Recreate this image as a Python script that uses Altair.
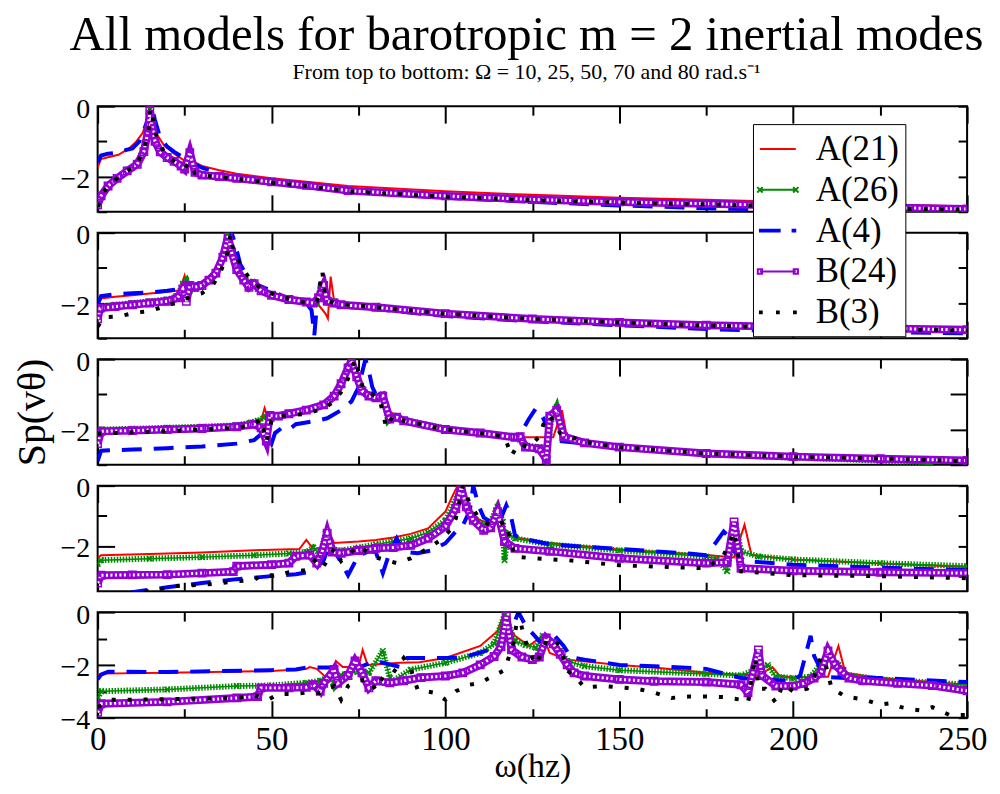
import altair as alt
import pandas as pd

FONT = "Liberation Serif"
MODELS = ["A(21)", "A(26)", "A(4)", "B(24)", "B(3)"]
COLORS = ["#ff0000", "#008b00", "#0000ff", "#9400d3", "#000000"]
X_MAJOR = [0, 50, 100, 150, 200, 250]
X_MINOR = [25, 75, 125, 175, 225]
Y_LOW = [-3, -3, -3, -3.5, -4]

# ---------- Panel 1 : Omega = 10 ----------
P1_A21 = [(0,-1.74),(1,-1.5),(3,-1.45),(6,-1.38),(9,-1.2),(11,-1.02),(13,-0.75),(14,-0.45),(15,0.0),(16,-0.45),(17,-0.8),(19,-1.1),(22,-1.35),(25,-1.55),(26.5,-1.3),(28,-1.6),(30,-1.7),(35,-1.82),(40,-1.92),(50,-2.05),(60,-2.15),(72,-2.27),(100,-2.42),(125,-2.52),(150,-2.6),(175,-2.66),(200,-2.72),(225,-2.79),(250,-2.85)]
P1_A26 = [(0,-2.85),(1,-2.55),(3,-2.3),(5,-2.1),(7,-1.95),(9,-1.8),(11,-1.65),(12.5,-1.4),(13.5,-1.1),(14.5,-0.6),(15,-0.1),(15.5,-0.5),(16.5,-0.95),(18,-1.25),(20,-1.45),(22,-1.57),(24,-1.72),(25,-1.78),(26.5,-1.35),(28,-1.85),(30,-1.95),(35,-2.0),(40,-2.07),(50,-2.17),(60,-2.27),(72,-2.4),(100,-2.55),(125,-2.65),(150,-2.72),(175,-2.78),(200,-2.84),(225,-2.89),(250,-2.93)]
P1_A4 = [(0,-1.6),(1,-1.4),(3,-1.35),(6,-1.32),(8,-1.25),(10,-1.2),(12,-1.0),(14,-0.5),(15.5,0.0),(16.5,-0.4),(18,-0.9),(20,-1.15),(22,-1.3),(24,-1.42),(27,-1.6),(30,-1.75),(35,-1.9),(40,-2.05),(50,-2.2),(60,-2.3),(72,-2.42),(100,-2.6),(125,-2.72),(150,-2.82),(175,-2.9),(200,-2.95),(225,-2.98),(250,-3.0)]
P1_B24 = [(0,-2.8),(1,-2.55),(3,-2.27),(5.6,-2.05),(8.5,-1.84),(11.4,-1.65),(13.3,-1.29),(14.5,-0.7),(15,-0.12),(15.6,-0.55),(16.5,-1.0),(18,-1.3),(20,-1.46),(22,-1.57),(24,-1.7),(25,-1.79),(26.5,-1.32),(28,-1.88),(30,-1.96),(35,-2.0),(40,-2.05),(50,-2.15),(60,-2.25),(72,-2.4),(100,-2.55),(125,-2.65),(150,-2.72),(175,-2.77),(200,-2.83),(225,-2.88),(250,-2.92)]
P1_B3 = [(0,-2.85),(2,-2.4),(5,-2.1),(8,-1.85),(11,-1.7),(13,-1.3),(14.5,-0.8),(15.2,-0.05),(16,-0.4),(17,-0.9),(19,-1.3),(21,-1.5),(23,-1.65),(25,-1.75),(26.5,-1.6),(28,-1.9),(30,-1.97),(35,-2.02),(40,-2.07),(50,-2.17),(60,-2.27),(72,-2.42),(100,-2.57),(125,-2.67),(150,-2.74),(175,-2.79),(200,-2.85),(225,-2.9),(250,-2.94)]

# ---------- Panel 2 : Omega = 25 ----------
P2_A21 = [(0,-1.95),(1,-1.87),(5,-1.82),(10,-1.78),(15,-1.73),(20,-1.68),(23.5,-1.64),(25,-1.22),(26,-1.7),(28,-1.55),(30,-1.4),(32,-1.25),(34,-1.02),(36,-0.6),(37,0.0),(38.5,-0.6),(40,-0.95),(42,-1.3),(45,-1.5),(50,-1.7),(55,-1.85),(60,-1.95),(63.5,-2.05),(65.5,-2.3),(66.2,-2.44),(67,-1.25),(68,-1.95),(70,-2.0),(80,-2.08),(100,-2.25),(125,-2.4),(150,-2.5),(175,-2.58),(200,-2.64),(225,-2.7),(250,-2.75)]
P2_A26 = [(0,-2.4),(0.7,-2.1),(5,-2.05),(10,-2.0),(15,-1.95),(20,-1.9),(23,-1.8),(24.5,-1.45),(25.5,-1.35),(26.5,-1.65),(28,-1.6),(30,-1.5),(32,-1.35),(34,-1.15),(36,-0.7),(37.5,0.0),(38.5,-0.55),(40,-1.0),(42,-1.3),(44,-1.4),(46,-1.6),(50,-1.75),(55,-1.9),(60,-1.95),(63,-2.0),(64,-1.6),(65,-1.45),(66,-1.9),(68,-1.95),(70,-2.05),(80,-2.12),(100,-2.3),(125,-2.45),(150,-2.55),(175,-2.63),(200,-2.69),(225,-2.73),(250,-2.78)]
P2_A4 = [(0,-2.05),(1,-1.8),(5,-1.75),(10,-1.72),(15,-1.7),(20,-1.65),(24,-1.6),(27,-1.5),(30,-1.42),(33,-1.2),(35.5,-0.9),(37,-0.5),(38.5,0.0),(39.5,-0.3),(41,-0.9),(43,-1.25),(45,-1.45),(50,-1.65),(55,-1.88),(60,-2.0),(61.5,-2.2),(62.3,-2.92),(63,-2.1),(64.5,-1.3),(65.5,-2.0),(68,-2.05),(70,-2.1),(80,-2.17),(100,-2.37),(125,-2.52),(150,-2.63),(175,-2.74),(200,-2.8),(225,-2.83),(250,-2.86)]
P2_B24 = [(0,-2.45),(0.7,-2.15),(5,-2.1),(10,-2.05),(15,-2.0),(20,-1.95),(23,-1.85),(24.5,-1.6),(25.5,-1.95),(26.5,-1.5),(28,-1.55),(30,-1.5),(32,-1.35),(34,-1.15),(36,-0.7),(37.5,-0.1),(38.5,-0.55),(40,-1.05),(42,-1.35),(43.5,-1.55),(45,-1.45),(47,-1.65),(50,-1.78),(55,-1.9),(60,-1.97),(62,-2.0),(63.5,-1.85),(65,-1.5),(66,-1.95),(68,-2.0),(70,-2.05),(80,-2.12),(100,-2.3),(125,-2.45),(150,-2.55),(175,-2.63),(200,-2.68),(225,-2.72),(250,-2.76)]
P2_B3 = [(0,-2.67),(2,-2.4),(6,-2.38),(11,-2.27),(15,-2.23),(20,-2.07),(24,-1.95),(27,-1.8),(30,-1.72),(33,-1.5),(35,-1.2),(37,-0.7),(38.2,-0.05),(39,-0.5),(41,-0.9),(44,-1.35),(48,-1.65),(52,-1.8),(56,-1.9),(60,-2.0),(63,-1.95),(64.6,-1.1),(65.5,-1.9),(68,-2.0),(72,-2.05),(80,-2.12),(100,-2.3),(125,-2.45),(150,-2.55),(175,-2.64),(200,-2.7),(225,-2.74),(250,-2.78)]

# ---------- Panel 3 : Omega = 50 ----------
P3_A21 = [(0,-2.05),(1,-2.0),(10,-1.98),(20,-1.95),(30,-1.92),(40,-1.88),(45,-1.8),(47,-1.75),(48,-1.39),(49,-1.7),(50,-1.65),(55,-1.55),(60,-1.45),(65,-1.25),(68,-1.0),(70,-0.6),(71.5,-0.3),(72.5,0.0),(74,-0.5),(76,-0.75),(78,-1.1),(80,-1.15),(82,-1.05),(84,-1.5),(88,-1.7),(100,-1.95),(110,-2.05),(120,-2.18),(121,-2.22),(131,-2.22),(133.5,-1.45),(135,-2.25),(140,-2.35),(150,-2.47),(175,-2.66),(200,-2.75),(225,-2.82),(250,-2.88)]
P3_A26 = [(0,-2.15),(1,-2.0),(10,-1.98),(20,-1.95),(30,-1.92),(40,-1.88),(44,-1.8),(46,-1.75),(48,-1.65),(50,-1.7),(52,-1.6),(55,-1.55),(60,-1.45),(65,-1.28),(68,-1.05),(70,-0.7),(72,-0.2),(73,0.0),(74.5,-0.5),(76,-0.85),(78,-1.0),(80,-1.05),(82,-1.0),(83.5,-1.75),(85,-1.6),(88,-1.72),(100,-1.97),(110,-2.08),(120,-2.2),(123,-2.45),(127,-2.5),(129,-2.6),(130.5,-1.7),(132,-1.35),(134,-2.2),(140,-2.38),(150,-2.5),(175,-2.7),(200,-2.8),(225,-2.88),(240,-3.0)]
P3_A4 = [(0,-2.9),(1,-2.6),(10,-2.57),(20,-2.53),(30,-2.48),(40,-2.4),(45,-2.3),(48,-2.05),(50,-2.4),(51,-2.1),(53,-1.95),(55,-2.0),(57,-1.85),(60,-1.8),(63,-1.75),(66,-1.68),(70,-1.45),(73,-1.2),(75,-0.8),(76,-0.4),(77,0.0),(78,-0.35),(79,-0.8),(80,-1.0),(82,-1.05),(84,-1.6),(88,-1.8),(100,-2.0),(110,-2.1),(120,-2.2),(122,-2.05),(124,-1.7),(126,-1.4),(128,-1.65),(129.5,-2.0),(131,-2.3),(135,-2.35),(140,-2.4),(150,-2.52),(175,-2.7),(200,-2.8),(225,-2.86),(250,-2.92)]
P3_B24 = [(0,-2.4),(1,-2.05),(10,-2.03),(20,-2.0),(30,-1.97),(40,-1.92),(45,-1.85),(47,-1.95),(48.5,-2.33),(49.5,-1.6),(52,-1.62),(55,-1.55),(60,-1.45),(65,-1.3),(68,-1.05),(70,-0.7),(72,-0.25),(73,-0.05),(74.5,-0.5),(76,-0.9),(78,-1.05),(80,-1.1),(82,-1.05),(84,-1.7),(86,-1.65),(88,-1.75),(100,-2.0),(110,-2.1),(120,-2.22),(121.5,-2.2),(123,-2.5),(127,-2.55),(129,-2.85),(130,-1.62),(132,-1.45),(134,-2.2),(140,-2.38),(150,-2.5),(175,-2.68),(200,-2.77),(225,-2.83),(250,-2.88)]
P3_B3 = [(0,-2.12),(5,-2.1),(10,-2.08),(20,-2.05),(30,-2.0),(40,-1.95),(45,-1.85),(47,-1.7),(48.5,-2.35),(50,-1.75),(52,-1.6),(55,-1.6),(60,-1.55),(65,-1.4),(68,-1.2),(71,-0.8),(73,-0.3),(74,0.0),(75,-0.35),(76.5,-0.9),(79,-1.0),(81,-1.1),(83,-1.95),(85,-1.6),(88,-1.75),(100,-2.0),(110,-2.1),(117,-2.2),(119,-2.75),(121,-2.4),(124,-2.5),(127,-2.2),(128.8,-1.67),(130,-1.6),(133,-2.1),(140,-2.35),(150,-2.5),(175,-2.68),(200,-2.77),(225,-2.82),(250,-2.9)]

# ---------- Panel 4 : Omega = 70 ----------
P4_A21 = [(0,-2.4),(1,-2.31),(15,-2.27),(30,-2.22),(45,-2.14),(58,-2.1),(60,-1.8),(62,-2.1),(65,-2.05),(66,-1.42),(68,-1.9),(75,-1.85),(80,-1.8),(85,-1.72),(90,-1.6),(95,-1.42),(100,-0.86),(102,-0.35),(103.5,0.0),(105,-0.5),(106.5,-0.86),(110,-1.15),(113,-1.25),(115,-1.1),(117,-1.6),(120,-1.72),(130,-1.9),(150,-2.12),(175,-2.3),(183,-2.38),(186,-1.3),(188,-2.3),(200,-2.45),(225,-2.58),(250,-2.7)]
P4_A26 = [(0,-2.6),(1,-2.47),(15,-2.42),(30,-2.37),(45,-2.31),(55,-2.25),(60,-2.2),(62,-2.05),(64,-2.3),(65.5,-1.6),(67,-2.1),(70,-2.15),(75,-2.05),(80,-1.95),(85,-1.85),(90,-1.75),(95,-1.55),(100,-1.15),(102.5,-0.6),(104.5,0.0),(106,-0.6),(108,-1.05),(111,-1.3),(113,-1.2),(115,-0.7),(116.5,-1.2),(117,-2.47),(118,-1.6),(120,-1.75),(130,-1.95),(150,-2.15),(175,-2.35),(178,-2.42),(181,-2.84),(183.5,-1.32),(185,-2.18),(190,-2.35),(200,-2.45),(225,-2.57),(250,-2.67)]
P4_A4 = [(0,-3.9),(5,-3.7),(10,-3.53),(20,-3.37),(30,-3.23),(40,-3.1),(50,-3.0),(57,-2.94),(62,-2.84),(65,-2.47),(67,-1.85),(69,-2.34),(72,-2.97),(75,-2.31),(78,-2.18),(80,-2.2),(82,-2.9),(84,-2.2),(86,-1.75),(88,-2.2),(92,-2.24),(96,-2.15),(100,-1.91),(103,-1.52),(105,-1.32),(107,-0.83),(108,0.0),(109.5,-0.65),(111,-1.05),(113,-1.2),(115,-1.35),(117.5,-0.65),(119,-1.09),(120,-1.65),(122,-1.75),(130,-1.95),(150,-2.1),(170,-2.25),(175,-2.31),(178,-1.85),(180,-1.52),(182,-1.75),(183,-2.18),(186,-2.5),(200,-2.62),(225,-2.72),(250,-2.8)]
P4_B24 = [(0,-3.23),(1,-2.97),(10,-2.96),(20,-2.95),(30,-2.9),(39,-2.85),(40,-2.67),(50,-2.62),(55,-2.57),(57,-2.34),(61,-2.3),(63,-2.57),(64.5,-2.2),(66,-1.58),(67.5,-2.2),(70,-2.24),(75,-2.15),(80,-2.08),(85,-2.05),(90,-1.98),(95,-1.75),(100,-1.35),(103,-0.76),(104.5,-0.05),(106,-0.7),(108,-1.15),(111,-1.48),(113,-1.4),(115,-0.86),(117,-1.85),(120,-2.08),(130,-2.18),(150,-2.41),(175,-2.57),(181,-2.54),(183,-1.2),(185,-2.74),(200,-2.82),(225,-2.87),(250,-2.9)]
P4_B3 = [(0,-3.8),(10,-3.55),(17,-3.46),(21.5,-3.33),(27,-3.3),(32,-3.27),(40,-3.17),(45,-3.13),(47,-2.97),(52,-2.97),(55,-2.87),(60,-2.8),(63,-2.41),(65,-2.67),(68,-2.08),(70,-2.5),(75,-2.0),(80,-2.38),(86,-2.57),(90,-2.41),(95,-2.08),(98,-1.85),(101,-1.52),(103,-1.09),(105,0.0),(107,-0.59),(110,-1.15),(114,-1.35),(117,-1.2),(118,-1.52),(120,-2.35),(125,-2.41),(135,-2.47),(150,-2.64),(175,-2.74),(180,-2.31),(183,-1.52),(185,-2.84),(200,-2.97),(225,-3.0),(250,-3.07)]

# ---------- Panel 5 : Omega = 80 ----------
P5_A21 = [(0,-2.4),(1,-2.33),(20,-2.3),(50,-2.23),(60,-2.15),(61,-2.08),(63,-2.15),(66.7,-2.6),(68.5,-1.85),(70.5,-2.08),(75,-2.08),(76.2,-1.43),(77.6,-2.0),(87,-1.92),(92.5,-1.9),(100,-1.74),(110,-1.28),(115,-0.72),(117,0.0),(118.5,-0.6),(120,-0.9),(124,-1.28),(128,-0.9),(130,-1.55),(135,-1.8),(150,-2.0),(160,-2.1),(175,-2.3),(185,-2.37),(190,-2.4),(194,-2.08),(196,-2.4),(200,-2.49),(205,-2.45),(210,-2.45),(213,-1.28),(215,-2.3),(220,-2.4),(230,-2.55),(240,-2.65),(250,-2.75)]
P5_A26 = [(0,-3.25),(1,-3.0),(20,-2.93),(40,-2.8),(50,-2.78),(60,-2.68),(64,-2.6),(66.7,-2.42),(68,-2.8),(70,-2.37),(75,-2.25),(78,-2.3),(82,-1.47),(84,-2.49),(85,-2.6),(90,-2.18),(100,-1.92),(110,-1.55),(114,-1.2),(117,-0.1),(120,-1.09),(123,-1.25),(126,-1.35),(128,-0.9),(130,-1.15),(133,-1.47),(135,-1.85),(140,-2.05),(150,-2.2),(175,-2.34),(185,-2.4),(192.7,-2.0),(195,-2.45),(200,-2.5),(205,-2.45),(210,-1.62),(213,-2.0),(215,-2.37),(225,-2.55),(250,-2.75)]
P5_A4 = [(0,-2.55),(1,-2.37),(3,-2.26),(20,-2.27),(50,-2.2),(57,-2.17),(60,-2.1),(66,-2.1),(70,-2.1),(75,-2.1),(80,-1.85),(83,-1.95),(87.7,-2.1),(89,-1.74),(100,-1.74),(105,-1.72),(112,-1.45),(118,-1.0),(121,0.0),(123,-0.5),(127,-1.1),(129,-1.3),(132,-0.98),(134,-1.28),(136,-1.7),(140,-1.8),(150,-2.0),(160,-2.05),(175,-2.15),(185,-2.5),(190,-2.55),(200,-2.6),(202,-2.4),(205,-0.9),(206,-1.66),(209,-2.45),(215,-2.5),(225,-2.5),(250,-2.65)]
P5_B24 = [(0,-3.8),(1,-3.47),(20,-3.4),(40,-3.25),(46,-3.2),(47,-2.87),(55,-2.87),(60,-2.85),(62,-2.75),(64,-3.0),(65,-2.7),(68,-2.17),(69,-2.7),(72,-2.4),(74,-1.85),(76,-2.3),(78,-2.87),(80,-2.6),(84,-2.68),(88,-2.6),(93,-2.48),(100,-2.42),(105,-2.3),(110,-2.0),(114,-1.68),(116,-1.3),(117.5,-0.15),(119,-1.43),(122,-1.7),(125,-1.8),(127,-1.7),(129,-0.98),(131,-1.2),(133,-1.6),(135,-2.0),(137,-2.3),(140,-2.42),(150,-2.55),(160,-2.62),(175,-2.65),(185,-2.75),(187,-3.06),(190,-1.43),(191,-2.4),(195,-2.8),(200,-2.8),(203,-2.7),(206,-2.5),(208,-2.3),(210,-1.47),(212,-2.0),(214,-2.25),(216,-2.5),(220,-2.6),(230,-2.7),(240,-2.78),(250,-2.98)]
P5_B3 = [(0,-3.6),(4,-3.32),(10,-3.32),(20,-3.3),(30,-3.28),(40,-3.25),(45,-3.15),(49,-3.32),(52,-3.1),(56,-3.1),(60,-3.05),(64,-3.06),(66,-2.9),(68,-2.8),(70,-3.32),(72,-2.8),(75,-2.6),(78,-2.55),(80,-2.95),(82,-2.45),(85,-2.3),(88,-1.74),(90,-2.15),(92,-2.93),(97,-3.06),(100,-3.32),(103,-3.0),(107,-2.75),(110,-2.68),(114,-2.4),(117,-2.2),(119.5,-1.2),(121,0.0),(122,-0.6),(123.5,-1.3),(126,-2.0),(129,-1.1),(131,-1.0),(133,-1.3),(135,-2.2),(138,-2.55),(140,-2.85),(145,-2.8),(150,-2.85),(155,-2.9),(160,-3.05),(165,-3.25),(170,-3.2),(175,-3.2),(180,-3.22),(185,-3.32),(187,-3.43),(189,-1.7),(190,-2.9),(192,-2.9),(195,-3.43),(197,-2.75),(200,-3.0),(204,-2.9),(206,-2.45),(208,-1.7),(209,-1.8),(211,-2.87),(215,-3.2),(220,-3.3),(225,-3.5),(228,-3.45),(231,-3.6),(235,-3.7),(237,-3.73),(240,-3.6),(245,-3.9),(250,-3.9)]

PANELS = [
    [P1_A21, P1_A26, P1_A4, P1_B24, P1_B3],
    [P2_A21, P2_A26, P2_A4, P2_B24, P2_B3],
    [P3_A21, P3_A26, P3_A4, P3_B24, P3_B3],
    [P4_A21, P4_A26, P4_A4, P4_B24, P4_B3],
    [P5_A21, P5_A26, P5_A4, P5_B24, P5_B3],
]

LEGEND_SHAPES = [
    "M-1,0H1",
    "M-1,0H1M-1.15,-0.15L-0.85,0.15M-1.15,0.15L-0.85,-0.15M0.85,-0.15L1.15,0.15M0.85,0.15L1.15,-0.15",
    "M-1,-0.05H0.1V0.05H-1ZM0.82,-0.05H0.97V0.05H0.82Z",
    "M-1,0H1M-1.12,-0.12H-0.88V0.12H-1.12ZM0.88,-0.12H1.12V0.12H0.88Z",
    "M-1,-0.05H-0.9V0.05H-1ZM-0.05,-0.05H0.05V0.05H-0.05ZM0.9,-0.05H1V0.05H0.9Z",
]
CROSS = "M-1,-1L1,1M-1,1L1,-1"

W, H = 873, 106


def frame(pairs):
    return pd.DataFrame(pairs, columns=["x", "y"])


def tick_axis(orient, size, values):
    return alt.Axis(orient=orient, offset=-size, tickSize=size, tickWidth=2, tickColor="black",
                    values=values, labels=False, domain=False, grid=False, title=None)


def panel(k):
    series = PANELS[k]
    lo = Y_LOW[k]
    ymaj = [v for v in range(0, int(lo) - 1, -2) if v >= lo]
    ymin = [v for v in range(-1, int(lo) - 1, -2) if v >= lo]
    last = k == len(PANELS) - 1
    rsize = 17 if k == 2 else 9
    xsc = alt.Scale(domain=[0, 250], nice=False, zero=False)
    ysc = alt.Scale(domain=[lo, 0], nice=False, zero=False)

    xkw = dict(orient="bottom", offset=-17, tickSize=17, tickWidth=2, tickColor="black",
               values=X_MAJOR, domain=False, grid=False, labels=last, title=None)
    if last:
        xkw.update(labelFont=FONT, labelFontSize=33, labelColor="black", labelPadding=6,
                   labelAlign={"condition": {"test": "datum.value == 250", "value": "right"}, "value": "center"},
                   labelOffset={"condition": {"test": "datum.value == 250", "value": 20}, "value": 0},
                   title="ω(hz)", titleFont=FONT, titleFontSize=34, titleFontWeight="normal",
                   titleColor="black", titlePadding=-7)
    ykw = dict(orient="left", offset=-17, tickSize=17, tickWidth=2, tickColor="black",
               values=ymaj, domain=False, grid=False, labelFont=FONT, labelFontSize=28,
               labelColor="black", labelPadding=8, labelOffset=3, title=None)
    if k == 2:
        ykw.update(title="Sp(vθ)", titleFont=FONT, titleFontSize=40, titleFontWeight="normal",
                   titleColor="black", titlePadding=8)

    def X(axis):
        return alt.X("x:Q", scale=xsc, axis=axis)

    def Y(axis):
        return alt.Y("y:Q", scale=ysc, axis=axis)

    a21, a26, a4, b24, b3 = [frame(s) for s in series]
    layers = [
        alt.Chart(a21).mark_line(color=COLORS[0], strokeWidth=2, clip=True).encode(
            x=X(alt.Axis(**xkw)), y=Y(alt.Axis(**ykw))),
        alt.Chart(a26).mark_line(color=COLORS[1], strokeWidth=1.5, clip=True).encode(
            x=X(tick_axis("bottom", 9, X_MINOR)), y=Y(tick_axis("left", 9, ymin))),
        alt.Chart(a26).mark_line(color=COLORS[1], strokeWidth=6, strokeDash=[1.5, 1.5], clip=True).encode(
            x=X(tick_axis("top", 17, X_MAJOR)), y=Y(tick_axis("right", rsize, ymaj))),
        alt.Chart(a26).mark_point(color=COLORS[1], shape=CROSS, size=30, strokeWidth=1.5, filled=False,
                                  opacity=1, clip=True).encode(
            x=X(tick_axis("top", 9, X_MINOR)), y=Y(tick_axis("right", rsize, ymin))),
        alt.Chart(a4).mark_line(color=COLORS[2], strokeWidth=4, strokeDash=[20, 12], clip=True).encode(
            x=X(None), y=Y(None)),
        alt.Chart(b24).mark_line(color=COLORS[3], strokeWidth=8, clip=True).encode(x=X(None), y=Y(None)),
        alt.Chart(b24).mark_line(color="white", strokeWidth=3, strokeDash=[2, 2.5], clip=True).encode(
            x=X(None), y=Y(None)),
        alt.Chart(b24).mark_point(color=COLORS[3], shape="square", size=55, strokeWidth=1.5, filled=False,
                                  opacity=1, clip=True).encode(x=X(None), y=Y(None)),
        alt.Chart(b3).mark_line(color=COLORS[4], strokeWidth=4, strokeDash=[4, 12], clip=True).encode(
            x=X(None), y=Y(None)),
    ]
    if last:
        # legend drawn from the last panel so it sits on top of every panel (box top at y=125 on the page)
        leg = alt.Legend(title=None, orient="none", legendX=658, legendY=-490, labelFont=FONT,
                         labelFontSize=35, labelColor="black", fillColor="white", strokeColor="black",
                         padding=6, rowPadding=4, labelOffset=19, symbolSize=1296,
                         symbolStrokeWidth=2, labelLimit=300)
        layers.append(
            alt.Chart(pd.DataFrame({"model": MODELS})).transform_filter("false").mark_point(
                filled=False, size=1296, strokeWidth=2, opacity=1).encode(
                color=alt.Color("model:N", scale=alt.Scale(domain=MODELS, range=COLORS), legend=leg),
                shape=alt.Shape("model:N", scale=alt.Scale(domain=MODELS, range=LEGEND_SHAPES), legend=leg),
            ))
    return alt.layer(*layers).resolve_axis(x="independent", y="independent").properties(width=W, height=H)


chart = alt.vconcat(
    *[panel(k) for k in range(len(PANELS))],
    spacing=21,
    bounds="flush",
    title=alt.TitleParams(
        text="All models for barotropic m = 2 inertial modes",
        subtitle="From top to bottom: Ω = 10, 25, 50, 70 and 80 rad.s⁻¹",
        font=FONT, fontSize=49, fontWeight="normal", color="black",
        subtitleFont=FONT, subtitleFontSize=22, subtitleColor="black", subtitlePadding=2,
        anchor="middle", offset=11, dx=27,
    ),
).resolve_scale(color="independent", shape="independent").properties(
    padding={"left": 3, "top": 2, "right": 4, "bottom": 0}
).configure(font=FONT).configure_view(stroke="black", strokeWidth=2)

chart.save("out.html", embed_options={"renderer": "svg", "actions": False})
